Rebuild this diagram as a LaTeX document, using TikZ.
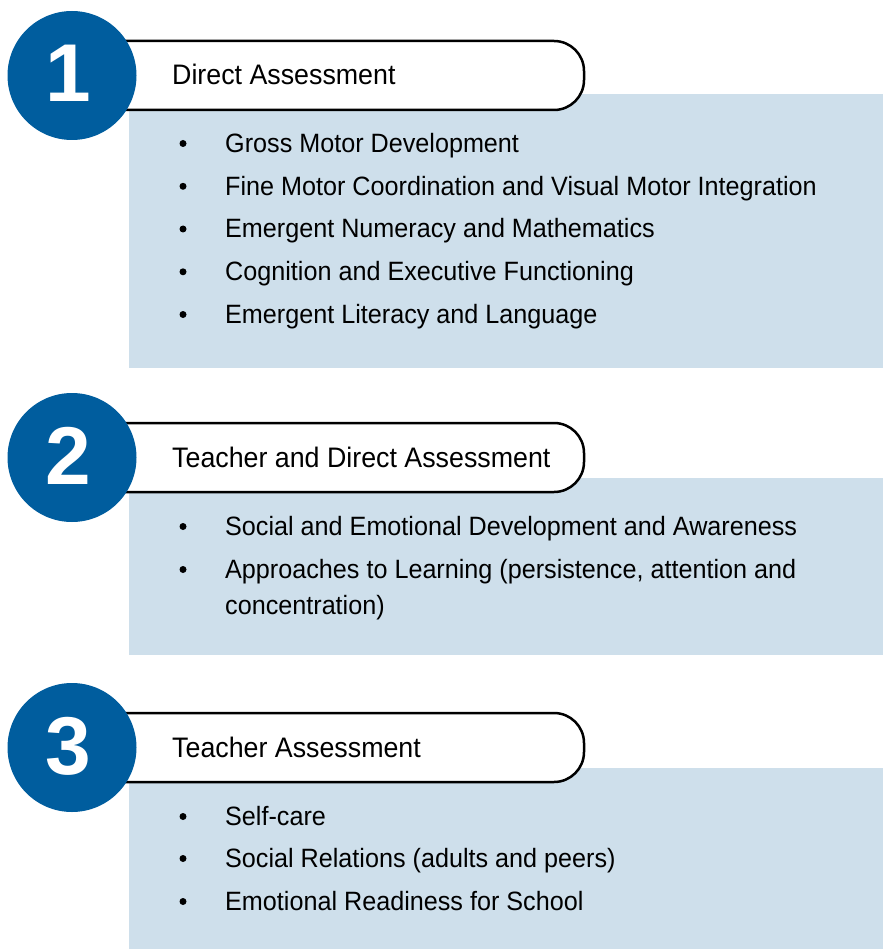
\documentclass[tikz,border=0pt]{standalone}
\usepackage{fontspec}
\setmainfont[FakeStretch=0.95]{Liberation Sans}
\newfontfamily\numfont{Liberation Sans}
\definecolor{numblue}{RGB}{0,93,158}
\definecolor{boxblue}{RGB}{206,223,235}
\begin{document}
\begin{tikzpicture}[x=1pt,y=-1pt,
  numcircle/.style={circle, fill=numblue, minimum size=129pt, inner sep=0pt},
  pill/.style={draw=black, line width=2.5pt, fill=white, rounded corners=30pt},
  panel/.style={fill=boxblue},
  head/.style={anchor=base west, inner sep=0pt, font=\fontsize{28.2}{32}\selectfont},
  item/.style={anchor=base west, inner sep=0pt, font=\fontsize{26.5}{30}\selectfont},
  bul/.style={circle, fill=black, inner sep=0pt, minimum size=7pt},
  num/.style={anchor=base, inner sep=0pt, text=white, font=\numfont\fontsize{82}{82}\bfseries\selectfont}]
\useasboundingbox (0,0) rectangle (883,949);

% ---------- Section 1 ----------
\fill[panel] (129,94) rectangle (883,368);
\draw[pill] (80,41) rectangle (584,110);
\node[numcircle] (c1) at (72,75.5) {};
\node[num] (n1) at (68,102) {1};
\node[head] (h1) at (172,85) {Direct Assessment};
\foreach \y/\t [count=\i] in {152.5/Gross Motor Development,
  195.3/Fine Motor Coordination and Visual Motor Integration,
  238/Emergent Numeracy and Mathematics,
  280.8/Cognition and Executive Functioning,
  323.5/Emergent Literacy and Language}{
  \node[bul] (b1-\i) at (183,\y-9) {};
  \node[item] (t1-\i) at (225,\y) {\t};
}

% ---------- Section 2 ----------
\fill[panel] (129,478) rectangle (883,655);
\draw[pill] (80,423) rectangle (584,492);
\node[numcircle] (c2) at (72,457.5) {};
\node[num] (n2) at (68,484) {2};
\node[head] (h2) at (172,467) {Teacher and Direct Assessment};
\node[bul] (b2-1) at (183,526.5) {};
\node[item] (t2-1) at (225,535.5) {Social and Emotional Development and Awareness};
\node[bul] (b2-2) at (183,569.5) {};
\node[item] (t2-2) at (225,578.5) {Approaches to Learning (persistence, attention and};
\node[item] (t2-2b) at (225,614.5) {concentration)};

% ---------- Section 3 ----------
\fill[panel] (129,768) rectangle (883,949);
\draw[pill] (80,713) rectangle (584,782);
\node[numcircle] (c3) at (72,747.5) {};
\node[num] (n3) at (68,774) {3};
\node[head] (h3) at (172,757) {Teacher Assessment};
\foreach \y/\t [count=\i] in {825.5/Self-care,
  867.5/Social Relations (adults and peers),
  910.5/Emotional Readiness for School}{
  \node[bul] (b3-\i) at (183,\y-9) {};
  \node[item] (t3-\i) at (225,\y) {\t};
}
\end{tikzpicture}
\end{document}
